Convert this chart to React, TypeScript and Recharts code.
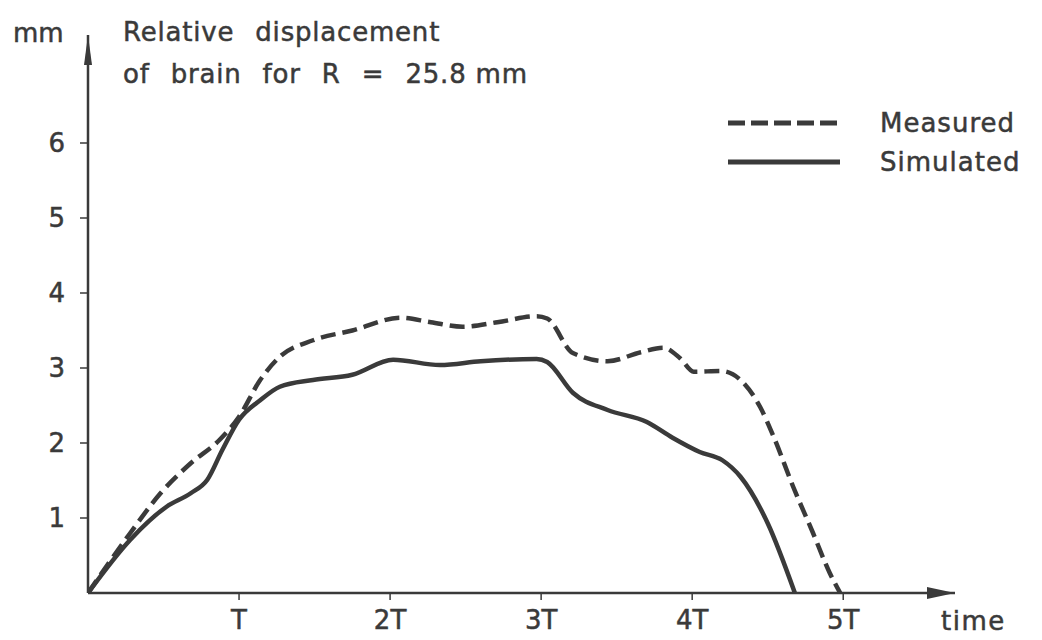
import { LineChart, Line, XAxis, YAxis, ReferenceDot } from 'recharts'

// time in units of T, displacement in mm
const measuredT = [0, 0.28, 0.48, 0.68, 0.87, 1.0, 1.14, 1.27, 1.49, 1.75, 2.07, 2.27, 2.48, 2.71, 2.97, 3.04, 3.21, 3.44, 3.66, 3.81, 3.92, 4.01, 4.19, 4.32, 4.45, 4.54, 4.67, 4.8, 4.91, 4.98]
const measuredMm = [0, 0.8, 1.33, 1.73, 2.04, 2.35, 2.84, 3.15, 3.37, 3.5, 3.67, 3.61, 3.55, 3.61, 3.69, 3.66, 3.2, 3.09, 3.21, 3.27, 3.13, 2.95, 2.96, 2.84, 2.48, 2.08, 1.41, 0.8, 0.27, 0]

const simulatedT = [0, 0.28, 0.52, 0.68, 0.79, 0.89, 1.0, 1.14, 1.27, 1.49, 1.75, 2.02, 2.33, 2.6, 2.97, 3.04, 3.21, 3.44, 3.7, 3.87, 4.05, 4.2, 4.32, 4.5, 4.68]
const simulatedMm = [0, 0.71, 1.15, 1.33, 1.51, 1.91, 2.31, 2.57, 2.75, 2.84, 2.91, 3.11, 3.04, 3.09, 3.12, 3.08, 2.67, 2.44, 2.28, 2.07, 1.88, 1.77, 1.55, 0.93, 0]

const xTicks = [1, 2, 3, 4, 5]
const xTickLabels = ['T', '2T', '3T', '4T', '5T']
const yTicks = [1, 2, 3, 4, 5, 6]

const measured = measuredT.map((t, i) => ({ t, mm: measuredMm[i] }))
const simulated = simulatedT.map((t, i) => ({ t, mm: simulatedMm[i] }))

const INK = '#3a3a3a'
const FONT = '"DejaVu Sans", sans-serif'
const X_MAX = 5.74
const Y_MAX = 7.44

const tickStyle = { fontSize: 26, fill: INK, fontFamily: FONT, stroke: INK, strokeWidth: 0.5 }

const App = () => {
  return (
    <div style={{ position: 'absolute', left: 0, top: 0, width: 1042, height: 640, background: '#fff' }}>
      <LineChart
        width={1042}
        height={640}
        margin={{ top: 35, right: 87, left: 8, bottom: 7 }}
      >
        <XAxis
          type="number"
          dataKey="t"
          domain={[0, X_MAX]}
          allowDataOverflow
          ticks={xTicks}
          tickFormatter={(v: number) => xTickLabels[xTicks.indexOf(v)] ?? ''}
          height={40}
          axisLine={{ stroke: INK, strokeWidth: 2.5 }}
          tickLine={{ stroke: INK, strokeWidth: 1.5 }}
          tickSize={7}
          tickMargin={11}
          tick={tickStyle}
        />
        <YAxis
          type="number"
          dataKey="mm"
          domain={[0, Y_MAX]}
          allowDataOverflow
          ticks={yTicks}
          width={80}
          axisLine={{ stroke: INK, strokeWidth: 2.5 }}
          tickLine={{ stroke: INK, strokeWidth: 1.5 }}
          tickSize={8}
          tickMargin={15}
          tick={tickStyle}
        />
        <Line
          data={simulated}
          dataKey="mm"
          type="monotone"
          stroke={INK}
          strokeWidth={4.5}
          dot={false}
          activeDot={false}
          isAnimationActive={false}
        />
        <Line
          data={measured}
          dataKey="mm"
          type="monotone"
          stroke={INK}
          strokeWidth={4.5}
          strokeDasharray="15 7"
          dot={false}
          activeDot={false}
          isAnimationActive={false}
        />
        {/* arrow heads on the axes */}
        <ReferenceDot
          x={X_MAX}
          y={0}
          ifOverflow="visible"
          shape={(p: any) => (
            <polygon points={`${p.cx},${p.cy} ${p.cx - 28},${p.cy - 6} ${p.cx - 28},${p.cy + 6}`} fill={INK} />
          )}
        />
        <ReferenceDot
          x={0}
          y={Y_MAX}
          ifOverflow="visible"
          shape={(p: any) => (
            <polygon points={`${p.cx},${p.cy} ${p.cx - 4},${p.cy + 30} ${p.cx + 4},${p.cy + 30}`} fill={INK} />
          )}
        />
      </LineChart>

      <svg
        width={1042}
        height={640}
        style={{ position: 'absolute', left: 0, top: 0, pointerEvents: 'none' }}
        fontFamily={FONT}
        fontSize={26}
        fill={INK}
        stroke={INK}
        strokeWidth={0.5}
      >
        <text x={13} y={42}>mm</text>
        <text x={123} y={41} letterSpacing={0.8} wordSpacing={12}>
          Relative displacement
        </text>
        <text x={123} y={83} letterSpacing={0.8} wordSpacing={12}>
          of brain for R = <tspan wordSpacing={0}>25.8 mm</tspan>
        </text>
        <text x={941} y={630} letterSpacing={1.5}>time</text>

        {/* legend */}
        <line x1={728} y1={123} x2={840} y2={123} stroke={INK} strokeWidth={5} strokeDasharray="17 6" />
        <line x1={728} y1={162} x2={840} y2={162} stroke={INK} strokeWidth={5} />
        <text x={880} y={132} letterSpacing={1}>Measured</text>
        <text x={880} y={171} letterSpacing={1}>Simulated</text>
      </svg>
    </div>
  )
}

export default App
